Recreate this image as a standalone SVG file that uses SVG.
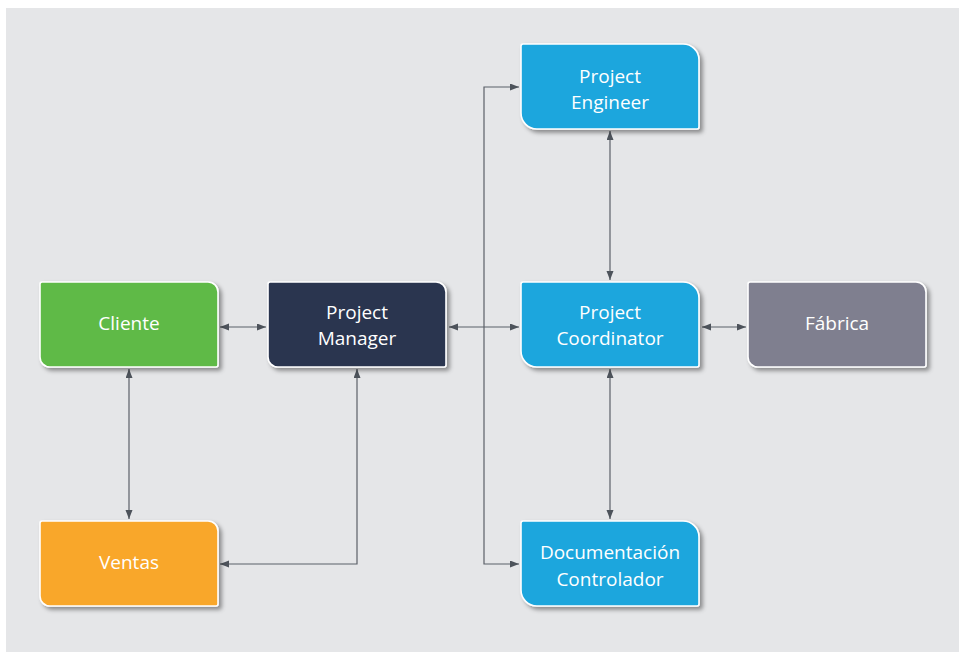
<svg xmlns="http://www.w3.org/2000/svg" xmlns:xlink="http://www.w3.org/1999/xlink" width="959" height="652" viewBox="0 0 959 652">
<style>
.bg{fill:#e5e6e8}
.node{stroke:#ffffff;stroke-width:1.6;filter:url(#sh)}
.lbl{font-family:"Open Sans","Noto Sans",sans-serif;font-size:19px;fill:#ffffff;text-anchor:middle}
.con{fill:none;stroke:#5b6068;stroke-width:1.2;marker-start:url(#ar);marker-end:url(#ar)}
</style>
<defs>
<filter id="sh" x="-10%" y="-10%" width="130%" height="140%">
<feDropShadow dx="3" dy="3" stdDeviation="2" flood-color="#000" flood-opacity="0.4"/>
</filter>
<marker id="ar" markerUnits="userSpaceOnUse" markerWidth="10" markerHeight="8" refX="9" refY="3.5" orient="auto-start-reverse">
<path d="M0,0 L9,3.5 L0,7 Z" fill="#4d535b"/>
</marker>
<path id="sA" d="M2,0 H168 A10 10 0 0 1 178,10 V83 A2 2 0 0 1 176,85 H10 A10 10 0 0 1 0,75 V2 A2 2 0 0 1 2,0 Z"/>
<path id="sB" d="M2,0 H162 A16 16 0 0 1 178,16 V83 A2 2 0 0 1 176,85 H16 A16 16 0 0 1 0,69 V2 A2 2 0 0 1 2,0 Z"/>
</defs>
<rect class="bg" x="6" y="8" width="953" height="644"/>
<g id="connectors">
<path class="con" d="M220,327 H266"/>
<path class="con" d="M129,369 V519"/>
<path class="con" d="M357,369 V564 H220"/>
<path class="con" d="M449,327 H519"/>
<path class="con" d="M519,87 H484 V564 H519"/>
<path class="con" d="M610,131 V280"/>
<path class="con" d="M610,369 V519"/>
<path class="con" d="M702,327 H746"/>
</g>
<g id="cliente" transform="translate(40,282)">
<use xlink:href="#sA" class="node" fill="#5fba46"/>
<text class="lbl" x="89" y="48">Cliente</text>
</g>
<g id="project-manager" transform="translate(268,282)">
<use xlink:href="#sA" class="node" fill="#2b3650"/>
<text class="lbl" x="89" y="37">Project</text>
<text class="lbl" x="89" y="63">Manager</text>
</g>
<g id="project-coordinator" transform="translate(521,282)">
<use xlink:href="#sB" class="node" fill="#1ba6dd"/>
<text class="lbl" x="89" y="37">Project</text>
<text class="lbl" x="89" y="63">Coordinator</text>
</g>
<g id="project-engineer" transform="translate(521,44)">
<use xlink:href="#sB" class="node" fill="#1ba6dd"/>
<text class="lbl" x="89" y="39">Project</text>
<text class="lbl" x="89" y="65">Engineer</text>
</g>
<g id="fabrica" transform="translate(748,282)">
<use xlink:href="#sA" class="node" fill="#7f7f8f"/>
<text class="lbl" x="89" y="48">Fábrica</text>
</g>
<g id="ventas" transform="translate(40,521)">
<use xlink:href="#sA" class="node" fill="#f9a72b"/>
<text class="lbl" x="89" y="48">Ventas</text>
</g>
<g id="documentacion-controlador" transform="translate(521,521)">
<use xlink:href="#sB" class="node" fill="#1ba6dd"/>
<text class="lbl" x="89" y="38">Documentación</text>
<text class="lbl" x="89" y="65">Controlador</text>
</g>
</svg>
